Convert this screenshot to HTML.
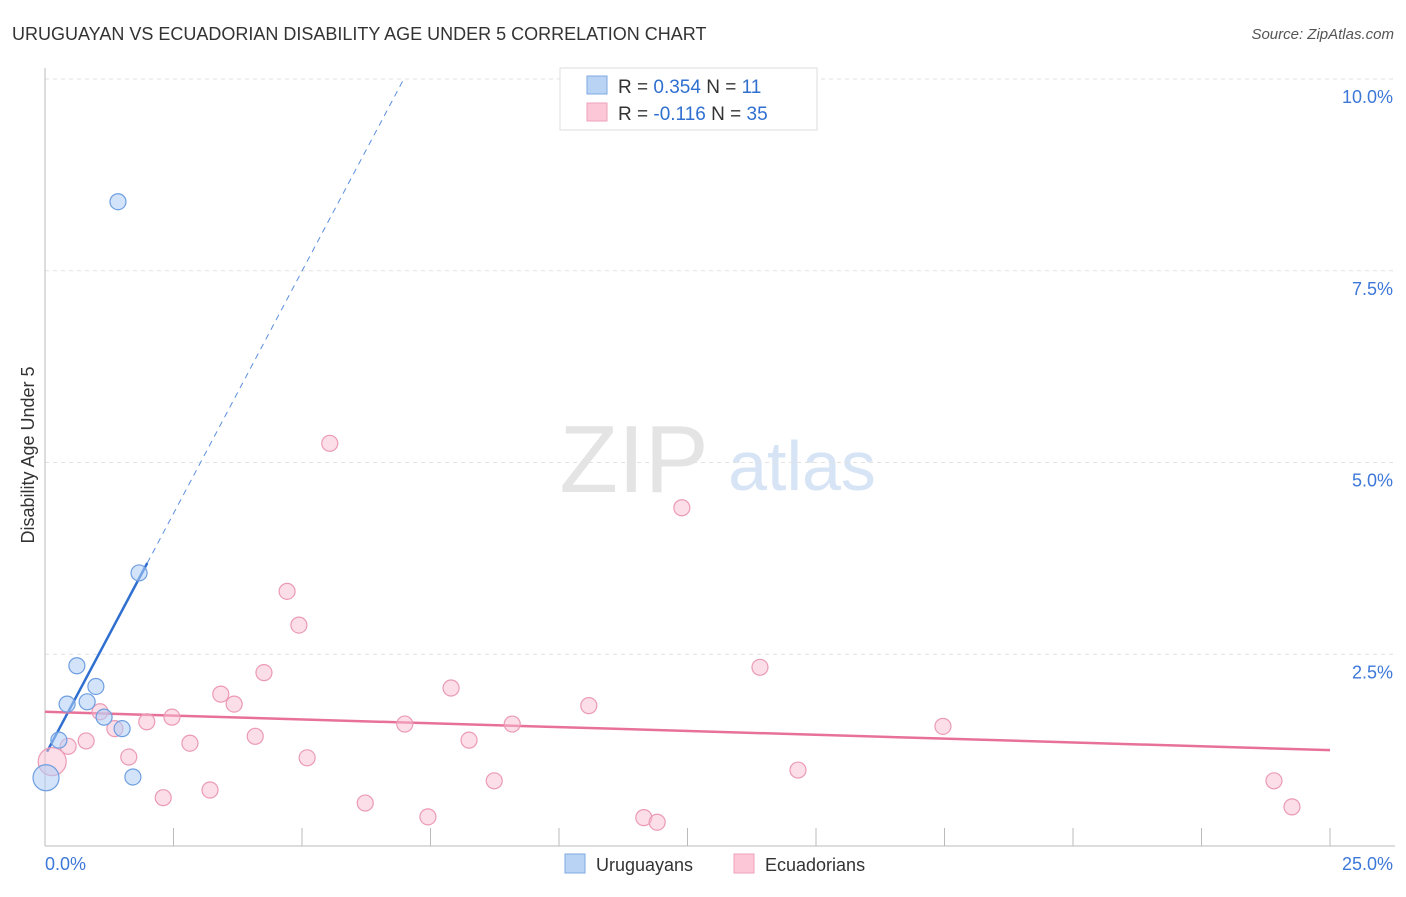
<!DOCTYPE html>
<html><head><meta charset="utf-8"><style>
body{margin:0;background:#fff;font-family:"Liberation Sans",sans-serif;}
svg text{font-family:"Liberation Sans",sans-serif;}
</style></head><body>
<svg width="1406" height="892" viewBox="0 0 1406 892">
<text x="12" y="40" font-size="18" fill="#333">URUGUAYAN VS ECUADORIAN DISABILITY AGE UNDER 5 CORRELATION CHART</text>
<text x="1394" y="39" font-size="15" fill="#555" text-anchor="end" font-style="italic">Source: ZipAtlas.com</text>
<text x="634" y="492" font-size="96" fill="#e4e4e4" font-family="Liberation Serif" text-anchor="middle">ZIP</text>
<text x="802" y="490" font-size="70" fill="#d6e4f5" text-anchor="middle">atlas</text>
<g id="grid"></g><g id="axes"></g><g id="lines"></g><g id="pts"></g>
<text transform="translate(34,455) rotate(-90)" font-size="18" fill="#333" text-anchor="middle">Disability Age Under 5</text>
<g>
<rect x="560" y="68" width="257" height="62" fill="#fff" stroke="#ddd"/>
<rect x="587" y="76" width="20" height="18" fill="#b9d3f5" stroke="#7ea8e0"/>
<rect x="587" y="103" width="20" height="18" fill="#fcc8d8" stroke="#eea0b8"/>
<text x="618" y="93" font-size="19" fill="#333">R = <tspan fill="#2f6fd0">0.354</tspan>   N =  <tspan fill="#2f6fd0">11</tspan></text>
<text x="618" y="120" font-size="19" fill="#333">R = <tspan fill="#2f6fd0">-0.116</tspan>   N = <tspan fill="#2f6fd0">35</tspan></text>
</g>
<g>
<rect x="565" y="854" width="20" height="19" fill="#b9d3f5" stroke="#7ea8e0"/>
<text x="596" y="871" font-size="18" fill="#333">Uruguayans</text>
<rect x="734" y="854" width="20" height="19" fill="#fcc8d8" stroke="#eea0b8"/>
<text x="765" y="871" font-size="18" fill="#333">Ecuadorians</text>
</g>
</svg>
<script>
const yTicks=[2.5,5.0,7.5,10.0];
const yTickLabels=["2.5%","5.0%","7.5%","10.0%"];
const xTicks=[0,2.5,5,7.5,10,12.5,15,17.5,20,22.5,25];
const uruX=[1.42,1.83,0.62,0.99,0.43,0.82,1.15,1.50,0.27,1.71,0.02];
const uruY=[8.40,3.56,2.35,2.08,1.85,1.88,1.68,1.53,1.38,0.90,0.89];
const ecuX=[5.54,12.39,4.71,4.94,13.91,4.26,7.90,3.42,3.68,10.58,1.07,2.47,1.98,7.00,9.09,17.47,1.36,0.80,4.09,8.25,2.82,0.45,1.63,5.10,0.14,14.65,8.74,23.91,3.21,2.30,6.23,24.26,7.45,11.65,11.91];
const ecuY=[5.25,4.41,3.32,2.88,2.33,2.26,2.06,1.98,1.85,1.83,1.75,1.68,1.62,1.59,1.59,1.56,1.53,1.37,1.43,1.38,1.34,1.30,1.16,1.15,1.10,0.99,0.85,0.85,0.73,0.63,0.56,0.51,0.38,0.37,0.31];
const uruTrend=[[0.04,1.23],[1.99,3.69]];
const uruTrendDash=[[1.99,3.69],[6.98,10.0]];
const ecuTrend=[[0,1.75],[25,1.25]];
const sx=v=>45+v*51.4, sy=v=>846-v*76.7;
const NS="http://www.w3.org/2000/svg";
function mk(tag,attrs,parent){const e=document.createElementNS(NS,tag);for(const k in attrs)e.setAttribute(k,attrs[k]);document.getElementById(parent).appendChild(e);return e;}
yTicks.forEach((t,i)=>{
 const g=mk('line',{x1:45,x2:1395,y1:sy(t),y2:sy(t),stroke:'#e2e2e2','stroke-dasharray':'4,4'},'grid');
 
 
 const l=mk('text',{x:1393,y:sy(t)+24,'font-size':18,fill:'#3d78d8','text-anchor':'end'},'grid');
 l.textContent=yTickLabels[i];
 
 
});
const ya=mk('line',{x1:45,x2:45,y1:68,y2:846,stroke:'#bbb'},'axes');


const xa=mk('line',{x1:45,x2:1395,y1:846,y2:846,stroke:'#bbb'},'axes');


xTicks.forEach(t=>{
 const tk=mk('line',{x1:sx(t),x2:sx(t),y1:828,y2:846,stroke:'#bbb'},'axes');
 
 
});
const xl0=mk('text',{x:45,y:870,'font-size':18,fill:'#3d78d8'},'axes');xl0.textContent='0.0%';


const xl1=mk('text',{x:1393,y:870,'font-size':18,fill:'#3d78d8','text-anchor':'end'},'axes');xl1.textContent='25.0%';


ecuX.forEach((x,i)=>{
 const c=mk('circle',{cx:sx(x),cy:sy(ecuY[i]),r:(i==24?14:8),fill:'rgba(250,190,210,0.5)',stroke:'#eb9ab5','stroke-width':1.2},'pts');
 
 
});
uruX.forEach((x,i)=>{
 const c=mk('circle',{cx:sx(x),cy:sy(uruY[i]),r:(i==10?13:8),fill:'rgba(175,205,245,0.55)',stroke:'#6e9ee0','stroke-width':1.2},'pts');
 
 
});
const l1=mk('line',{x1:sx(uruTrend[0][0]),y1:sy(uruTrend[0][1]),x2:sx(uruTrend[1][0]),y2:sy(uruTrend[1][1]),stroke:'#2f6fd0','stroke-width':2.5},'lines');


const l2=mk('line',{x1:sx(uruTrendDash[0][0]),y1:sy(uruTrendDash[0][1]),x2:sx(uruTrendDash[1][0]),y2:sy(uruTrendDash[1][1]),stroke:'#5b8fdc','stroke-width':1,'stroke-dasharray':'6,5'},'lines');


const l3=mk('line',{x1:sx(ecuTrend[0][0]),y1:sy(ecuTrend[0][1]),x2:sx(ecuTrend[1][0]),y2:sy(ecuTrend[1][1]),stroke:'#e8719a','stroke-width':2.5},'lines');


</script>
</body></html>
